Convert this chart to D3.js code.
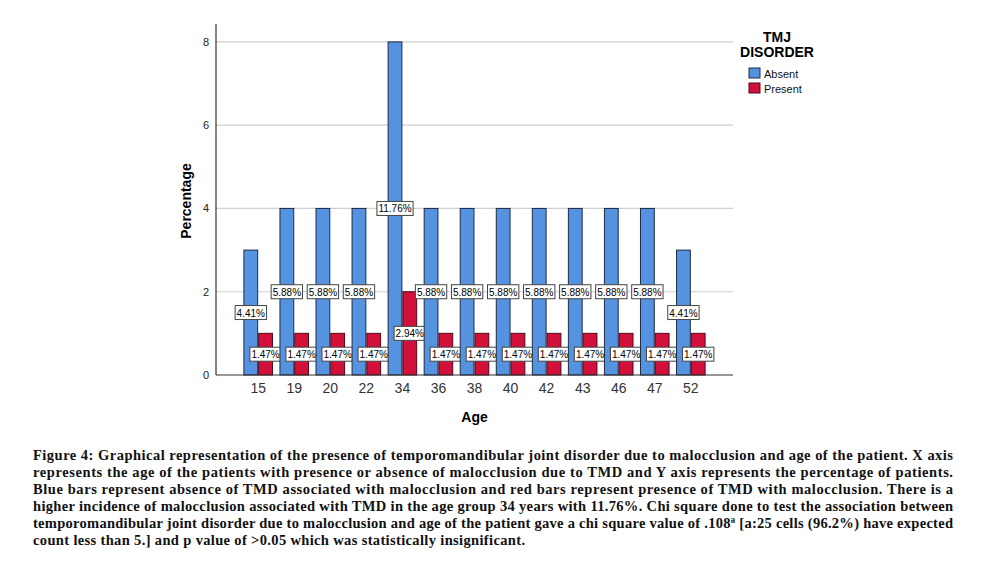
<!DOCTYPE html>
<html>
<head>
<meta charset="utf-8">
<script src="https://cdn.jsdelivr.net/npm/d3@7"></script>
<style>
  html, body { margin: 0; padding: 0; background: #fff; }
  svg { display: block; }
</style>
</head>
<body>
<svg id="chart" width="988" height="567"></svg>
<script>
const ages = ["15","19","20","22","34","36","38","40","42","43","46","47","52"];
const absentValues = [3,4,4,4,8,4,4,4,4,4,4,4,3];
const presentValues = [1,1,1,1,2,1,1,1,1,1,1,1,1];
const absentLabels = ["4.41%","5.88%","5.88%","5.88%","11.76%","5.88%","5.88%","5.88%","5.88%","5.88%","5.88%","5.88%","4.41%"];
const presentLabels = ["1.47%","1.47%","1.47%","1.47%","2.94%","1.47%","1.47%","1.47%","1.47%","1.47%","1.47%","1.47%","1.47%"];
const seriesNames = ["Absent","Present"];
const yTicks = [0,2,4,6,8];
const legendTitle = ["TMJ","DISORDER"];
const captionLines = [
  "Figure 4: Graphical representation of the presence of temporomandibular joint disorder due to malocclusion and age of the patient. X axis",
  "represents the age of the patients with presence or absence of malocclusion due to TMD and Y axis represents the percentage of patients.",
  "Blue bars represent absence of TMD associated with malocclusion and red bars represent presence of TMD with malocclusion. There is a",
  "higher incidence of malocclusion associated with TMD in the age group 34 years with 11.76%. Chi square done to test the association between",
  "temporomandibular joint disorder due to malocclusion and age of the patient gave a chi square value of .108\u00AA [a:25 cells (96.2%) have expected",
  "count less than 5.] and p value of >0.05 which was statistically insignificant."
];

const colors = { Absent: "#5592e0", Present: "#d2103a" };
const strokes = { Absent: "#1c2c48", Present: "#4a0a16" };

const svg = d3.select("#chart");
const plot = { left: 216, right: 733, top: 24, bottom: 375 };
const sans = "'Liberation Sans', Arial, sans-serif";

const x = d3.scaleBand().domain(ages).range([plot.left, plot.right]).paddingInner(0.18).paddingOuter(0.76);
const xInner = d3.scaleBand().domain(seriesNames).range([0, x.bandwidth()]);
const y = d3.scaleLinear().domain([0, 8.43]).range([plot.bottom, plot.top]);

// gridlines
svg.append("g").selectAll("line").data(yTicks.filter(d => d > 0)).join("line")
  .attr("x1", plot.left).attr("x2", plot.right)
  .attr("y1", d => y(d)).attr("y2", d => y(d))
  .attr("stroke", "#cfcfcf").attr("stroke-width", 1.2);

const data = ages.map((a, i) => ({
  age: a,
  vals: [
    { s: "Absent", v: absentValues[i], lab: absentLabels[i] },
    { s: "Present", v: presentValues[i], lab: presentLabels[i] }
  ]
}));

const groups = svg.append("g").selectAll("g").data(data).join("g")
  .attr("transform", d => `translate(${x(d.age)},0)`);

groups.selectAll("rect").data(d => d.vals).join("rect")
  .attr("x", d => xInner(d.s) + 0.5)
  .attr("width", xInner.bandwidth() - 1)
  .attr("y", d => y(d.v))
  .attr("height", d => y(0) - y(d.v))
  .attr("fill", d => colors[d.s])
  .attr("stroke", d => strokes[d.s])
  .attr("stroke-width", 1);

// axes
const yAxis = d3.axisLeft(y).tickValues(yTicks).tickSize(0).tickPadding(7).tickFormat(d3.format("d"));
const gy = svg.append("g").attr("transform", `translate(${plot.left},0)`).call(yAxis);
gy.select(".domain").remove();
gy.selectAll("text").attr("font-family", sans).attr("font-size", 11).attr("fill", "#222");

const xAxis = d3.axisBottom(x).tickSize(0).tickPadding(8);
const gx = svg.append("g").attr("transform", `translate(0,${plot.bottom})`).call(xAxis);
gx.select(".domain").remove();
gx.selectAll("text").attr("font-family", sans).attr("font-size", 14).attr("fill", "#333");

svg.append("line").attr("x1", plot.left).attr("x2", plot.left).attr("y1", plot.top).attr("y2", plot.bottom)
  .attr("stroke", "#333").attr("stroke-width", 1.2);
svg.append("line").attr("x1", plot.left).attr("x2", plot.right).attr("y1", plot.bottom).attr("y2", plot.bottom)
  .attr("stroke", "#333").attr("stroke-width", 1.2);

// value labels
const labs = groups.selectAll("g.lab").data(d => d.vals).join("g").attr("class", "lab")
  .attr("transform", d => `translate(${xInner(d.s) + xInner.bandwidth() / 2},${y(d.v / 2)})`);
labs.append("rect").attr("fill", "#fff").attr("stroke", "#444").attr("stroke-width", 1);
labs.append("text").text(d => d.lab)
  .attr("font-family", sans).attr("font-size", 10).attr("fill", "#000")
  .attr("text-anchor", "middle").attr("dominant-baseline", "central").attr("y", 0.5);
labs.each(function() {
  const g = d3.select(this);
  const w = g.select("text").node().getComputedTextLength() + 3;
  g.select("rect").attr("x", -w / 2).attr("y", -7).attr("width", w).attr("height", 14);
});

// axis titles
svg.append("text").text("Age").attr("x", (plot.left + plot.right) / 2).attr("y", 422)
  .attr("text-anchor", "middle").attr("font-family", sans).attr("font-weight", "bold").attr("font-size", 14);
svg.append("text").text("Percentage")
  .attr("transform", `translate(191,201) rotate(-90)`)
  .attr("text-anchor", "middle").attr("font-family", sans).attr("font-weight", "bold").attr("font-size", 14);

// legend
const lg = svg.append("g");
lg.selectAll("text.t").data(legendTitle).join("text").attr("class", "t")
  .text(d => d).attr("x", 777).attr("y", (d, i) => 42 + i * 15)
  .attr("text-anchor", "middle").attr("font-family", sans).attr("font-weight", "bold").attr("font-size", 14);
const items = lg.selectAll("g.item").data(seriesNames).join("g").attr("class", "item")
  .attr("transform", (d, i) => `translate(749,${68 + i * 15})`);
items.append("rect").attr("width", 11).attr("height", 10)
  .attr("fill", d => colors[d]).attr("stroke", d => strokes[d]).attr("stroke-width", 1);
items.append("text").text(d => d).attr("x", 15).attr("y", 9.5)
  .attr("font-family", sans).attr("font-size", 11).attr("fill", "#111");

// caption
const capWidths = [920, 920, 920, 920, 920, 492];
const cap = svg.append("g");
cap.selectAll("text").data(captionLines).join("text")
  .text(d => d)
  .attr("x", 33).attr("y", (d, i) => 460 + i * 17)
  .attr("font-family", "'Liberation Serif', 'DejaVu Serif', serif")
  .attr("font-weight", "bold").attr("font-size", 14.5).attr("fill", "#111")
  .attr("textLength", (d, i) => capWidths[i]).attr("lengthAdjust", "spacing");
</script>
</body>
</html>
